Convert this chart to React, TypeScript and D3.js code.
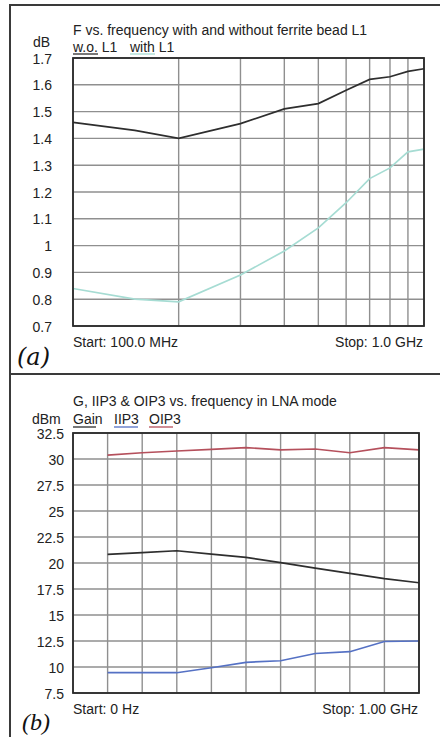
import * as d3 from 'd3';

// ---- panel (a): noise figure vs. frequency ----
const freqA = [100, 150, 200, 300, 400, 500, 600, 700, 800, 900, 1000]; // MHz
const withoutL1 = [1.46, 1.43, 1.4, 1.455, 1.51, 1.53, 1.58, 1.62, 1.63, 1.65, 1.66];
const withL1 = [0.84, 0.8, 0.79, 0.89, 0.98, 1.066, 1.16, 1.25, 1.29, 1.35, 1.36];
const gridA = [100, 200, 300, 400, 500, 600, 700, 800, 900, 1000];
const ticksA = [0.7, 0.8, 0.9, 1, 1.1, 1.2, 1.3, 1.4, 1.5, 1.6, 1.7];

// ---- panel (b): gain, IIP3, OIP3 in LNA mode ----
const freqB = [0.1, 0.2, 0.3, 0.4, 0.5, 0.6, 0.7, 0.8, 0.9, 1.0]; // GHz
const gain = [20.83, 21.0, 21.18, 20.85, 20.54, 20.03, 19.5, 19.0, 18.5, 18.1];
const iip3 = [9.45, 9.45, 9.45, 9.93, 10.45, 10.6, 11.3, 11.47, 12.45, 12.5];
const oip3 = [30.38, 30.6, 30.77, 30.93, 31.1, 30.87, 30.96, 30.6, 31.1, 30.87];
const gridB = [0, 0.1, 0.2, 0.3, 0.4, 0.5, 0.6, 0.7, 0.8, 0.9, 1.0];
const ticksB = [7.5, 10, 12.5, 15, 17.5, 20, 22.5, 25, 27.5, 30, 32.5];

const FONT = 'Arial, "Liberation Sans", Helvetica, sans-serif';
const GRID = '#8f8f8f';
const FRAME = '#2a2a2a';
const C_BLACK = '#2e2e2e';
const C_CYAN = '#a6dcd3';
const C_RED = '#b5505c';
const C_BLUE = '#5571c4';

const Panel = ({ x0, x1, y0, y1, xScale, yScale, grid, ticks, tickX, series, children }) => {
  const line = (xs, ys) =>
    d3
      .line()
      .x((_, i) => xScale(xs[i]))
      .y(d => yScale(d))(ys);

  return (
    <g>
      <rect x={x0} y={y0} width={x1 - x0} height={y1 - y0} fill="white" />
      {ticks.map(t => (
        <line key={`h${t}`} x1={x0} x2={x1} y1={yScale(t)} y2={yScale(t)} stroke={GRID} strokeWidth={1.4} />
      ))}
      {grid.map(g => (
        <line key={`v${g}`} x1={xScale(g)} x2={xScale(g)} y1={y0} y2={y1} stroke={GRID} strokeWidth={1.4} />
      ))}
      {ticks.map(t => (
        <text
          key={`t${t}`}
          x={tickX}
          y={yScale(t)}
          dy="0.4em"
          textAnchor="end"
          fontSize={14}
          fontFamily={FONT}
          fill="#222"
        >
          {String(t)}
        </text>
      ))}
      {series.map(s => (
        <path key={s.name} d={line(s.x, s.y)} fill="none" stroke={s.color} strokeWidth={s.width || 1.7} />
      ))}
      <rect x={x0} y={y0} width={x1 - x0} height={y1 - y0} fill="none" stroke={FRAME} strokeWidth={1.8} />
      {children}
    </g>
  );
};

const Txt = ({ x, y, children, anchor = 'start', size = 14, color = '#222' }) => (
  <text x={x} y={y} textAnchor={anchor} fontSize={size} fontFamily={FONT} fill={color}>
    {children}
  </text>
);

const Underline = ({ x, y, w, color }) => (
  <line x1={x} x2={x + w} y1={y} y2={y} stroke={color} strokeWidth={1.3} />
);

export default function App() {
  const width = 440;
  const height = 737;

  // panel (a) scales
  const aLeft = 73;
  const aRight = 424;
  const aTop = 58;
  const aBottom = 326;
  const xA = d3.scaleLog().domain([100, 1000]).range([aLeft, aRight]);
  const yA = d3.scaleLinear().domain([0.7, 1.7]).range([aBottom, aTop]);

  // panel (b) scales
  const bLeft = 73;
  const bRight = 419;
  const bTop = 433;
  const bBottom = 693;
  const xB = d3.scaleLinear().domain([0, 1]).range([bLeft, bRight]);
  const yB = d3.scaleLinear().domain([7.5, 32.5]).range([bBottom, bTop]);

  return (
    <svg width={width} height={height} style={{ position: 'absolute', left: 0, top: 0 }}>
      <rect width={width} height={height} fill="white" />
      {/* outer frame */}
      <path d={`M10,${height} V5 H${width}`} fill="none" stroke="#3a3a3a" strokeWidth={2} />
      <line x1={10} x2={width} y1={374} y2={374} stroke="#3a3a3a" strokeWidth={2} />

      <Panel
        x0={aLeft}
        x1={aRight}
        y0={aTop}
        y1={aBottom}
        xScale={xA}
        yScale={yA}
        grid={gridA}
        ticks={ticksA}
        tickX={52}
        series={[
          { name: 'wo', x: freqA, y: withoutL1, color: C_BLACK },
          { name: 'with', x: freqA, y: withL1, color: C_CYAN },
        ]}
      >
        <Txt x={73} y={35}>F vs. frequency with and without ferrite bead L1</Txt>
        <Txt x={33} y={47}>dB</Txt>
        <Txt x={73} y={52}>w.o. L1</Txt>
        <Txt x={130} y={52}>with L1</Txt>
        <Underline x={73} y={54} w={25} color={C_BLACK} />
        <Underline x={130} y={54} w={25} color={C_CYAN} />
        <Txt x={73} y={347}>Start: 100.0 MHz</Txt>
        <Txt x={423} y={347} anchor="end">Stop: 1.0 GHz</Txt>
      </Panel>
      <text x={17} y={365} fontSize={24} fontStyle="italic" fontFamily="'DejaVu Serif', 'Liberation Serif', serif" fill="#111">
        (a)
      </text>

      <Panel
        x0={bLeft}
        x1={bRight}
        y0={bTop}
        y1={bBottom}
        xScale={xB}
        yScale={yB}
        grid={gridB}
        ticks={ticksB}
        tickX={64}
        series={[
          { name: 'oip3', x: freqB, y: oip3, color: C_RED },
          { name: 'gain', x: freqB, y: gain, color: C_BLACK },
          { name: 'iip3', x: freqB, y: iip3, color: C_BLUE },
        ]}
      >
        <Txt x={73} y={406}>G, IIP3 &amp; OIP3 vs. frequency in LNA mode</Txt>
        <Txt x={32} y={424}>dBm</Txt>
        <Txt x={73} y={424}>Gain</Txt>
        <Txt x={114} y={424}>IIP3</Txt>
        <Txt x={149} y={424}>OIP3</Txt>
        <Underline x={73} y={427} w={23} color={C_BLACK} />
        <Underline x={114} y={427} w={24} color={C_BLUE} />
        <Underline x={149} y={427} w={24} color={C_RED} />
        <Txt x={73} y={714}>Start: 0 Hz</Txt>
        <Txt x={418} y={714} anchor="end">Stop: 1.00 GHz</Txt>
      </Panel>
      <text x={22} y={730} fontSize={24} fontStyle="italic" fontFamily="'Liberation Serif', 'DejaVu Serif', serif" fill="#111">
        (b)
      </text>
    </svg>
  );
}
